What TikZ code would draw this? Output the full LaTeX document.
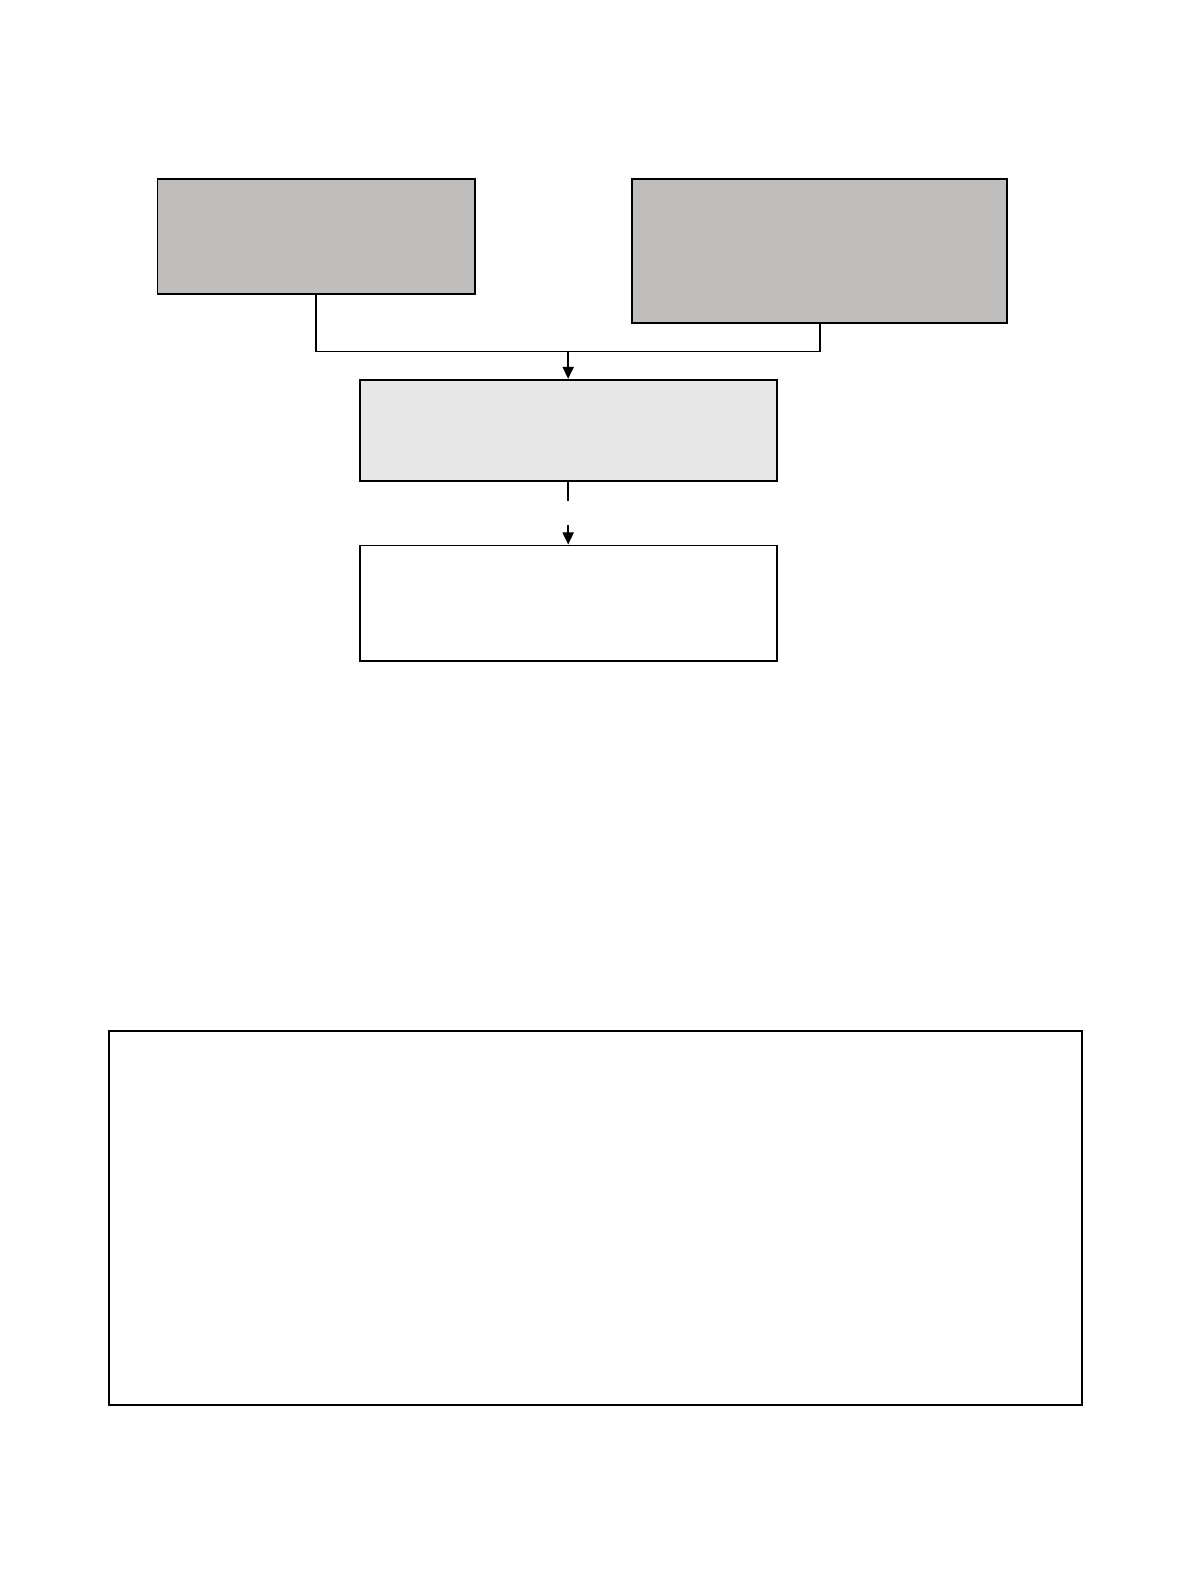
\documentclass[tikz,border=0pt]{standalone}
\usepackage{tikz}
\usetikzlibrary{arrows.meta}

\begin{document}
\begin{tikzpicture}[x=1pt, y=-1pt, line width=1.8pt,
	box/.style={draw, rectangle, inner sep=0pt},
	tip/.style={-{Triangle[length=12pt, width=11pt]}}]

% parameters %{{{2

	\definecolor{darkbox}{RGB}{191,190,188}
	\definecolor{lightbox}{RGB}{232,232,232}

	\useasboundingbox (0,0) rectangle (1180.2,1568.2);

% boxes %{{{2

	\node[box, fill=darkbox, minimum width=314pt, minimum height=114pt] (A) at (313,234) {};
	\node[box, fill=darkbox, minimum width=371pt, minimum height=143pt] (B) at (811.5,248.5) {};
	\node[box, fill=lightbox, minimum width=413pt, minimum height=100pt] (C) at (562.5,426) {};
	\node[box, minimum width=413pt, minimum height=114pt] (D) at (562.5,597) {};
	\node[box, line width=2.2pt, minimum width=963pt, minimum height=370pt] (E) at (589.5,1206) {};

% coordinates %{{{2

	\coordinate (J) at (562.5,348);
	\coordinate (G1) at (562.5,496);
	\coordinate (G2) at (562.5,520);

% connectors %{{{2

	\draw (A.south) |- (J) -| (B.south);
	\draw[tip] (J) -- (C.north);

	\draw (C.south) -- (G1);
	\draw[tip] (G2) -- (D.north);

% closing %{{{2

\end{tikzpicture}
\end{document}
